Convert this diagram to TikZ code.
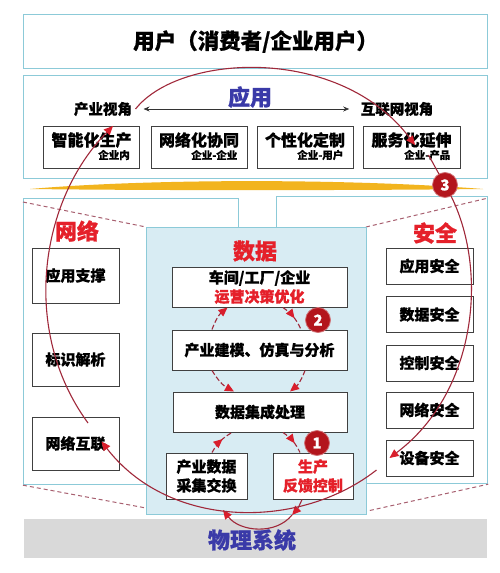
\documentclass[tikz,border=0pt]{standalone}
\usepackage{fontspec}
\setmainfont{Noto Sans CJK SC}[BoldFeatures={FakeBold=0.8}]
\usetikzlibrary{arrows.meta,decorations.markings}
\definecolor{panel}{HTML}{8CCAD8}
\definecolor{datafill}{HTML}{D8ECF3}
\definecolor{loopc}{HTML}{A0283A}
\definecolor{tipc}{HTML}{D81E2C}
\definecolor{hred}{HTML}{E5202A}
\definecolor{hblue}{HTML}{3A3AA8}
\definecolor{gold}{HTML}{F2B41E}
\definecolor{badgec}{HTML}{B3151C}
\definecolor{dashc}{HTML}{A86070}
\definecolor{physfill}{HTML}{D9D9D9}
\tikzset{
  panelbox/.style={draw=panel, line width=1.2pt, fill=white, anchor=north west, inner sep=0pt},
  ibox/.style={draw=black!75, line width=1pt, fill=white, inner sep=0pt, align=center},
  tbig/.style={font=\bfseries\fontsize{21.5}{24}\selectfont},
  thead/.style={font=\bfseries\fontsize{22}{26}\selectfont},
  tmid/.style={font=\bfseries\fontsize{15}{20}\selectfont},
  tside/.style={font=\bfseries\fontsize{14.5}{18}\selectfont},
  tbox/.style={font=\bfseries\fontsize{16}{20}\selectfont},
  tsub/.style={font=\bfseries\fontsize{10.5}{12}\selectfont, inner sep=1pt, anchor=east},
  loopline/.style={draw=loopc, line width=1.1pt},
  dashloop/.style={loopline, dash pattern=on 5pt off 2.5pt},
  redtip/.style={-{Triangle[length=9pt,width=8pt,color=tipc]}},
  midarrow/.style={postaction=decorate, decoration={markings,
      mark=at position #1 with {\arrow{Triangle[length=9pt,width=8pt,color=tipc]}}}},
  badgenode/.style={circle, fill=badgec, draw=badgec!60!white, line width=0.8pt,
      minimum size=25pt, inner sep=0pt, text=white, font=\bfseries\fontsize{15}{15}\selectfont},
  sepline/.style={draw=dashc, line width=1pt, dash pattern=on 4pt off 3pt},
}
\begin{document}
\begin{tikzpicture}[x=1pt,y=-1pt]
\useasboundingbox (0,0) rectangle (500,573);
\fill[white] (0,0) rectangle (500,573);

% ---------- user ----------
\node[panelbox, minimum width=464pt, minimum height=54pt, tbig] (user) at (23,14) {用户（消费者/企业用户）};

% ---------- application ----------
\node[panelbox, minimum width=464pt, minimum height=103pt] (app) at (23,75) {};
\node[thead, text=hblue] (appt) at (250,97) {应用};
\node[tside] (pv) at (103,109) {产业视角};
\node[tside] (iv) at (397,109) {互联网视角};
\draw[{Stealth[length=6pt,width=5pt]}-{Stealth[length=6pt,width=5pt]}, black!80, line width=0.8pt]
  ([xshift=8pt]pv.east) -- ([xshift=-8pt]iv.west);

\node[ibox, minimum width=96pt, minimum height=42pt] (a1) at (91.5,147) {};
\node[ibox, minimum width=96pt, minimum height=42pt] (a2) at (199,147) {};
\node[ibox, minimum width=96pt, minimum height=42pt] (a3) at (305,147) {};
\node[ibox, minimum width=97pt, minimum height=42pt] (a4) at (411.5,147) {};
\node[tbox] (a1t) at ([yshift=7pt]a1.center) {智能化生产};
\node[tbox] (a2t) at ([yshift=7pt]a2.center) {网络化协同};
\node[tbox] (a3t) at ([yshift=7pt]a3.center) {个性化定制};
\node[tbox] (a4t) at ([yshift=7pt]a4.center) {服务化延伸};
\node[tsub] (a1s) at ([xshift=-9pt,yshift=-8pt]a1.east) {企业内};
\node[tsub] (a2s) at ([xshift=-9pt,yshift=-8pt]a2.east) {企业-企业};
\node[tsub] (a3s) at ([xshift=-9pt,yshift=-8pt]a3.east) {企业-用户};
\node[tsub] (a4s) at ([xshift=-9pt,yshift=-8pt]a4.east) {企业-产品};

% ---------- golden swoosh ----------
\fill[gold] (30,189) .. controls (150,178.5) and (350,178.5) .. (483,189)
            .. controls (350,190.5) and (150,190.5) .. cycle;

% ---------- side panels ----------
\node[panelbox, minimum width=215pt, minimum height=286pt] (net) at (23,198) {};
\node[panelbox, minimum width=211pt, minimum height=287pt] (sec) at (276,196) {};
\coordinate (data-nw) at (146,227);
\draw[sepline] ([yshift=-4pt]net.north west) -- (data-nw);
\coordinate (data-sw) at (146,508);
\draw[sepline] (net.south west) -- (data-sw);
\coordinate (data-ne) at (366,227);
\draw[sepline] (data-ne) -- ([yshift=-2pt]sec.north east);
\coordinate (data-se) at (363,512);
\draw[sepline] (data-se) -- (sec.south east);

% ---------- data panel ----------
\node[panelbox, fill=datafill, minimum width=220pt, minimum height=287pt] (data) at (146,227) {};

% ---------- physical ----------
\node[anchor=north west, fill=physfill, minimum width=463pt, minimum height=39pt, inner sep=0pt] (phys) at (24,519) {};
\node[thead, text=hblue] (physt) at (252,540) {物理系统};

% ---------- titles ----------
\node[thead, text=hred] (nett) at (77,231) {网络};
\node[thead, text=hred] (sect) at (435,233) {安全};
\node[thead, text=hred] (datat) at (255,251) {数据};

% ---------- network boxes ----------
\node[ibox, tmid, minimum width=87pt, minimum height=55pt] (l1) at (75.5,275.5) {应用支撑};
\node[ibox, tmid, minimum width=87pt, minimum height=53pt] (l2) at (75.5,359.5) {标识解析};
\node[ibox, tmid, minimum width=87pt, minimum height=53pt] (l3) at (75.5,443.5) {网络互联};

% ---------- security boxes ----------
\node[ibox, tmid, minimum width=87pt, minimum height=36pt] (s1) at (429.5,266) {应用安全};
\node[ibox, tmid, minimum width=87pt, minimum height=36pt] (s2) at (429.5,314.5) {数据安全};
\node[ibox, tmid, minimum width=87pt, minimum height=36pt] (s3) at (429.5,363) {控制安全};
\node[ibox, tmid, minimum width=87pt, minimum height=36pt] (s4) at (429.5,410) {网络安全};
\node[ibox, tmid, minimum width=87pt, minimum height=36pt] (s5) at (429.5,458) {设备安全};

% ---------- data boxes ----------
\node[ibox, tmid, minimum width=175pt, minimum height=40pt] (d1) at (259.5,287) {车间/工厂/企业\\[-1pt]\textcolor{hred}{运营决策优化}};
\node[ibox, tmid, minimum width=175pt, minimum height=40pt] (d2) at (259.5,350) {产业建模、仿真与分析};
\node[ibox, tmid, minimum width=174pt, minimum height=40pt] (d3) at (260,412) {数据集成处理};
\node[ibox, tmid, minimum width=81pt, minimum height=46pt] (d4) at (206.5,476) {产业数据\\[-1pt]采集交换};
\node[ibox, tmid, minimum width=80pt, minimum height=46pt, text=hred] (d5) at (313,476) {生产\\[-1pt]反馈控制};

% ---------- badge positions ----------
\coordinate (b3) at (445,185);
\coordinate (b2) at (318,320);
\coordinate (b1) at (317,443);

% ---------- loop 2 ----------
\draw[dashloop, redtip] ([xshift=-47.5pt]d2.north) to[bend left=15] ([xshift=-32pt]d1.south);
\draw[dashloop, midarrow=0.55] ([xshift=23.5pt]d1.south) to[bend left=15] ([xshift=41.5pt]d2.north);
\draw[dashloop, redtip] ([xshift=45.5pt]d2.south) to[bend left=15] ([xshift=30pt]d3.north);
\draw[dashloop, redtip] ([xshift=-47.5pt]d2.south) to[bend right=15] ([xshift=-26pt]d3.north);

% ---------- loop 1 ----------
\coordinate (q1) at (292,515);
\coordinate (q2) at (223,510);
\draw[dashloop, midarrow=0.6] ([xshift=5.5pt]d4.north) to[bend left=15] ([xshift=-28pt]d3.south);
\draw[dashloop, midarrow=0.6] ([xshift=23pt]d3.south) to[bend left=15] ([xshift=-13pt]d5.north);
\draw[loopline, redtip] ([xshift=-11pt]d5.south) to[bend left=10] (q1);
\draw[loopline, redtip] (q1) .. controls (276,535) and (240,532) .. (q2);

% ---------- big loop ----------
\draw[loopline, redtip] (pv.east) .. controls (180,53) and (340,45) .. ([xshift=3.5pt,yshift=2pt]a4.center);
\draw[loopline] ([xshift=17pt,yshift=-8pt]a4.center) -- (b3);
\draw[loopline, redtip] (b3) .. controls (490,260) and (480,390) .. ([xshift=4pt]s5.west);
\draw[loopline, redtip] ([xshift=-9pt,yshift=-12pt]s5.west) .. controls (300,530) and (170,530) .. ([xshift=26pt,yshift=2pt]l3.center);
\draw[loopline, redtip] ([xshift=12.5pt,yshift=20.5pt]l3.center) .. controls (20,330) and (40,200) .. ([xshift=21.5pt,yshift=21pt]a1.center);

% ---------- badges on top ----------
\node[badgenode] (b3n) at (b3) {3};
\node[badgenode] (b2n) at (b2) {2};
\node[badgenode] (b1n) at (b1) {1};
\end{tikzpicture}
\end{document}
